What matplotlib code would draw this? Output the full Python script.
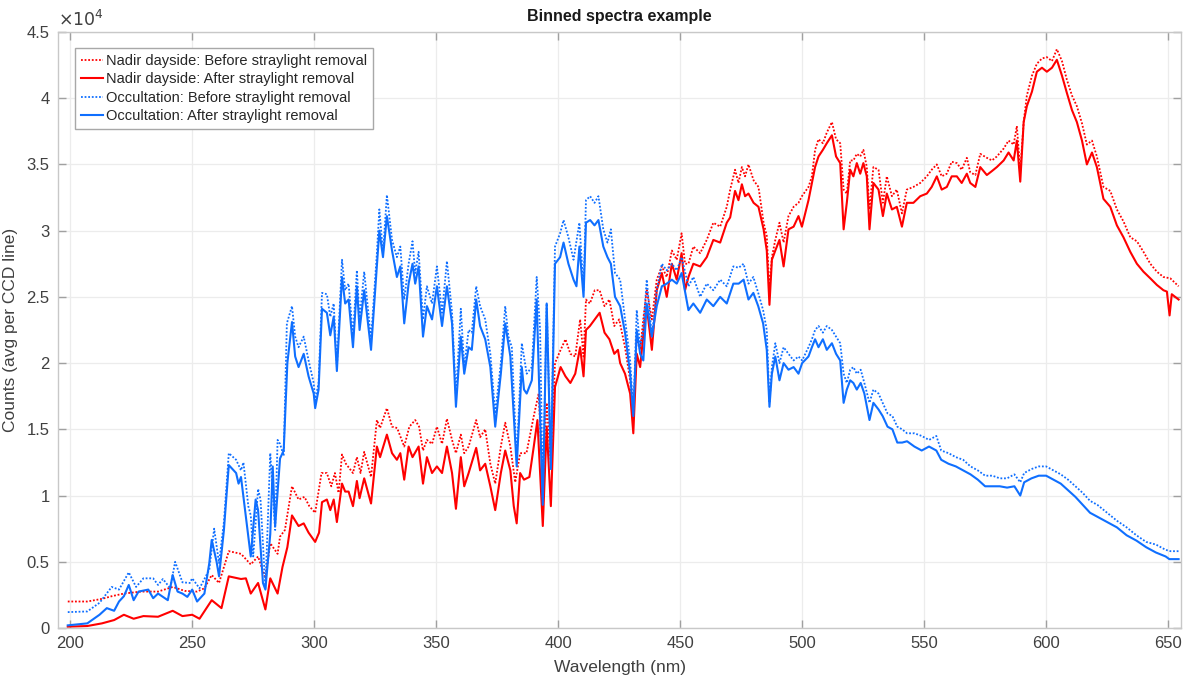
import numpy as np
import matplotlib
matplotlib.use("Agg")
import matplotlib.pyplot as plt
from matplotlib.ticker import FuncFormatter

# ---- data (counts in units of 1e4) ----
SCALE = 1e4

nadir_after_wl = [199, 207, 213, 218, 222, 226, 230, 236, 242, 246, 250, 253, 258, 262, 265, 270, 272, 274, 277, 280,
    282, 285, 287, 289, 290.9, 293.6, 295.7, 297.7, 300.4, 302, 303.2, 305.2, 306.6, 308, 309.3, 311.4, 312.7, 314.1,
    315.9, 317.5, 318.6, 320.5, 323.3, 325.7, 327, 329.8, 331.9, 333.9, 335.3, 336.9, 338.7, 340.3, 342.8, 344.6,
    346.2, 348.3, 350.3, 352.4, 354.4, 356.5, 358.1, 360.1, 361.5, 363.3, 366.4, 368, 370.1, 372.2, 374.2, 376.5,
    378.3, 380.4, 381.8, 383, 384.4, 386, 388.2, 390, 391.5, 393.7, 395.3, 397, 398.7, 401, 403, 405, 407, 409,
    410.4, 411.4, 413, 415, 417, 419, 421, 423, 424.5, 425.4, 427.4, 429.5, 430.8, 432.2, 433.6, 435, 436.3, 438.4,
    440.4, 442.5, 444.5, 446.6, 448.6, 450.6, 452, 453.4, 455.4, 458.2, 460.9, 463.6, 466.4, 469.1, 470.5, 472.5,
    473.9, 475.3, 476.6, 478, 480.1, 482.1, 484.2, 485.5, 486.6, 487.6, 489, 490.7, 492.4, 494.4, 496.5, 498.5,
    499.9, 502.6, 504, 505.3, 506.7, 508.5, 510.1, 512.2, 513.9, 515.6, 517, 518.3, 519.7, 521, 522.4, 523.8, 525.1,
    526.5, 527.6, 529.2, 531.3, 533.1, 534.7, 536.8, 538.8, 540.9, 542.9, 545.6, 548.4, 551.1, 553.1, 555.2, 557.2,
    559.3, 561.3, 563.4, 565.4, 567.5, 568.9, 571, 573, 575.7, 577.8, 579.8, 582.6, 584.6, 586.7, 588, 589.4, 590.8,
    592.1, 594.2, 596.2, 598.3, 600.3, 602.4, 604.4, 606.5, 608.5, 610.6, 612.6, 614.7, 616.7, 618.8, 620.8, 623.5,
    626.3, 629, 631.7, 634.5, 637.2, 639.9, 642.7, 645.4, 648.1, 649.5, 650.6, 651.5, 654.3]
nadir_after = [0.01, 0.015, 0.035, 0.06, 0.10, 0.07, 0.09, 0.085, 0.13, 0.09, 0.10, 0.07, 0.21, 0.15, 0.39, 0.37, 0.375,
    0.26, 0.34, 0.14, 0.375, 0.26, 0.46, 0.61, 0.85, 0.77, 0.79, 0.72, 0.65, 0.72, 0.95, 0.97, 0.89, 0.97, 0.80, 1.09,
    1.03, 1.03, 0.92, 1.11, 0.98, 1.13, 0.94, 1.37, 1.29, 1.46, 1.32, 1.27, 1.32, 1.12, 1.37, 1.29, 1.37, 1.09, 1.29,
    1.17, 1.22, 1.17, 1.37, 1.17, 0.90, 1.29, 1.07, 1.17, 1.36, 1.19, 1.24, 1.07, 0.89, 1.17, 1.34, 1.19, 0.92, 0.79,
    1.17, 1.12, 1.14, 1.37, 1.57, 0.77, 1.52, 0.92, 1.82, 1.97, 1.90, 1.85, 1.92, 2.12, 1.90, 2.25, 2.28, 2.33, 2.38,
    2.23, 2.18, 2.07, 2.10, 2.00, 1.92, 1.77, 1.47, 2.07, 1.97, 2.23, 2.43, 2.10, 2.55, 2.68, 2.50, 2.75, 2.63, 2.83,
    2.55, 2.65, 2.75, 2.73, 2.80, 2.93, 2.91, 3.06, 3.10, 3.30, 3.23, 3.35, 3.26, 3.28, 3.21, 3.18, 3.01, 2.85, 2.44,
    2.78, 2.85, 2.93, 2.73, 3.01, 3.03, 3.11, 3.03, 3.23, 3.36, 3.48, 3.56, 3.61, 3.66, 3.72, 3.56, 3.51, 3.01, 3.21,
    3.46, 3.41, 3.51, 3.43, 3.51, 3.41, 3.01, 3.36, 3.31, 3.11, 3.28, 3.16, 3.18, 3.03, 3.21, 3.21, 3.26, 3.28, 3.33,
    3.41, 3.31, 3.33, 3.41, 3.41, 3.36, 3.43, 3.36, 3.33, 3.48, 3.42, 3.45, 3.48, 3.53, 3.59, 3.53, 3.68, 3.37, 3.82,
    3.94, 4.05, 4.20, 4.23, 4.20, 4.23, 4.29, 4.17, 4.04, 3.91, 3.82, 3.68, 3.50, 3.59, 3.48, 3.24, 3.18, 3.04, 2.95,
    2.84, 2.75, 2.69, 2.64, 2.59, 2.55, 2.54, 2.36, 2.52, 2.48]

nadir_before_wl = [199, 207, 213, 217, 222, 229, 236, 242, 247, 252, 255, 258, 261, 265, 270, 274, 277, 280, 282, 285,
    286, 288, 290.9, 293.6, 296, 298, 300.4, 303, 305.2, 307, 308.5, 310, 311.4, 313, 315.9, 317.5, 319, 320.5, 323.3,
    325.7, 327, 329.8, 331.9, 334, 336.9, 339, 341.4, 343, 344.6, 346.2, 348.3, 350.3, 352.4, 354.4, 356.5, 358.1,
    360.1, 361.5, 363.3, 366.4, 368, 370.1, 372.2, 374.2, 376.5, 378.3, 380.4, 382.4, 384.4, 387, 390, 392, 393.7,
    395.3, 397, 398.7, 401, 403, 405, 407, 409, 410.4, 411.4, 413, 415, 417, 419, 421, 423, 425, 427.4, 429.5, 430.8,
    432.2, 433.6, 435, 436.3, 438.4, 440.4, 442.5, 444.5, 446.6, 448.6, 450.6, 452, 453.4, 455.4, 458.2, 460.9, 463.6,
    466.4, 469.1, 470.5, 472.5, 473.9, 475.3, 476.6, 478, 480.1, 482.1, 484.2, 485.5, 486.6, 487.6, 489, 490.7, 492.4,
    494.4, 496.5, 498.5, 499.9, 502.6, 504, 505.3, 506.7, 508.5, 510.1, 512.2, 513.9, 515.6, 517, 518.3, 519.7, 521,
    522.4, 523.8, 525.1, 526.5, 527.6, 529.2, 531.3, 533.1, 534.7, 536.8, 538.8, 540.9, 542.9, 545.6, 548.4, 551.1,
    553.1, 555.2, 557.2, 559.3, 561.3, 563.4, 565.4, 567.5, 568.9, 571, 573, 575.7, 577.8, 579.8, 582.6, 584.6, 586.7,
    588, 589.4, 590.8, 592.1, 594.2, 596.2, 598.3, 600.3, 602.4, 604.4, 606.5, 608.5, 610.6, 612.6, 614.7, 616.7,
    618.8, 620.8, 623.5, 626.3, 629, 631.7, 634.5, 637.2, 639.9, 642.7, 645.4, 648.1, 650.9, 654.3]
nadir_before = [0.20, 0.20, 0.22, 0.24, 0.26, 0.275, 0.275, 0.31, 0.28, 0.275, 0.30, 0.40, 0.34, 0.58, 0.56, 0.48, 0.54,
    0.375, 0.64, 0.56, 0.69, 0.74, 1.07, 0.97, 0.99, 0.92, 0.87, 1.17, 1.17, 1.07, 1.17, 1.02, 1.31, 1.24, 1.17, 1.29,
    1.17, 1.33, 1.14, 1.57, 1.51, 1.66, 1.52, 1.51, 1.37, 1.52, 1.57, 1.52, 1.34, 1.42, 1.39, 1.52, 1.39, 1.58, 1.42,
    1.32, 1.46, 1.32, 1.37, 1.57, 1.44, 1.50, 1.24, 1.09, 1.37, 1.55, 1.37, 1.10, 1.32, 1.32, 1.60, 1.77, 1.12, 1.70,
    1.24, 2.00, 2.10, 2.18, 2.07, 2.05, 2.33, 2.05, 2.48, 2.45, 2.55, 2.55, 2.43, 2.48, 2.28, 2.33, 2.12, 1.87, 1.57,
    2.20, 2.10, 2.35, 2.55, 2.33, 2.63, 2.73, 2.65, 2.85, 2.78, 2.98, 2.75, 2.75, 2.88, 2.83, 2.93, 3.06, 3.03, 3.18,
    3.31, 3.46, 3.36, 3.48, 3.41, 3.50, 3.38, 3.33, 3.06, 2.96, 2.55, 2.80, 2.93, 3.06, 2.91, 3.11, 3.18, 3.21, 3.26,
    3.33, 3.41, 3.61, 3.69, 3.66, 3.74, 3.82, 3.69, 3.66, 3.31, 3.28, 3.53, 3.53, 3.58, 3.56, 3.61, 3.48, 3.16, 3.48,
    3.46, 3.21, 3.41, 3.26, 3.31, 3.13, 3.31, 3.33, 3.36, 3.41, 3.46, 3.50, 3.41, 3.43, 3.52, 3.51, 3.46, 3.55, 3.44,
    3.42, 3.58, 3.55, 3.53, 3.56, 3.62, 3.68, 3.65, 3.79, 3.45, 3.82, 4.02, 4.17, 4.26, 4.30, 4.31, 4.28, 4.37, 4.28,
    4.14, 4.02, 3.94, 3.81, 3.65, 3.68, 3.56, 3.33, 3.30, 3.16, 3.07, 2.95, 2.92, 2.84, 2.75, 2.69, 2.65, 2.64, 2.58]

occ_after_wl = [199, 207, 212, 215, 218, 220, 222, 224, 226, 228, 232, 234, 236, 238, 240, 242, 244, 246, 248, 250, 252,
    255, 257, 258, 260, 261, 263, 265, 268, 269, 270, 272, 274, 276, 277, 279, 280, 282, 283, 284, 286, 287.5, 289,
    290.9, 292.2, 293.6, 295.7, 297.7, 299.8, 300.4, 301.8, 303.2, 305.2, 306.6, 308, 309.3, 311.4, 312.7, 314.1,
    315.9, 317.5, 318.6, 320.5, 323.3, 325.7, 326.7, 328.2, 329.8, 331.9, 333.9, 335.3, 336.9, 338.7, 340.3, 341.4,
    342.8, 344.6, 346.2, 348.3, 350.3, 352.4, 354.4, 356.5, 358.1, 360.1, 361.5, 363.3, 364.6, 366.4, 368, 370.1,
    372.2, 374.2, 376.5, 378.3, 380.4, 383, 385.1, 386, 387.1, 389.2, 391.2, 392.6, 393.7, 395.3, 397, 398.7, 400.8,
    402.2, 404.2, 406.3, 407.5, 408.7, 410.4, 411.4, 413.1, 414.9, 416.5, 418.5, 420.2, 421.6, 423.3, 425.4, 427.4,
    429.5, 430.8, 432.2, 433.6, 434.9, 436.3, 438.4, 440.4, 442.5, 444.5, 446.6, 448.6, 450.6, 453.4, 455.4, 458.2,
    460.9, 463.6, 466.4, 469.1, 471.8, 474, 476, 478, 480, 482, 484, 485.5, 486.6, 487.6, 489, 490.7, 492.4, 494.4,
    496.5, 498.5, 500, 502.6, 504, 505.3, 506.7, 508.5, 510.1, 512.2, 513.9, 515.6, 517, 518.3, 519.7, 521, 522.4,
    524, 525.5, 527.6, 529.2, 531.3, 533, 535, 537, 539, 541, 543, 546, 549, 552, 555, 557, 560, 563, 566, 569, 572,
    575, 578, 581, 584, 587, 589.4, 591, 594, 597, 600, 603, 606, 609, 612, 615, 618, 621, 625, 629, 633, 637, 641,
    645, 649, 650.5, 654.3]
occ_after = [0.02, 0.035, 0.10, 0.15, 0.13, 0.20, 0.24, 0.325, 0.21, 0.275, 0.29, 0.225, 0.26, 0.235, 0.21, 0.40, 0.275,
    0.26, 0.235, 0.29, 0.20, 0.26, 0.49, 0.665, 0.50, 0.39, 0.74, 1.23, 1.17, 1.09, 1.14, 0.84, 0.54, 0.97, 0.89, 0.34,
    0.29, 0.71, 1.22, 0.77, 1.28, 1.34, 2.00, 2.31, 2.05, 1.97, 2.07, 1.90, 1.77, 1.66, 1.80, 2.41, 2.38, 2.21, 2.35,
    1.94, 2.65, 2.45, 2.48, 2.12, 2.58, 2.25, 2.55, 2.10, 2.73, 3.00, 2.80, 3.11, 2.85, 2.65, 2.73, 2.30, 2.60, 2.75,
    2.60, 2.73, 2.20, 2.43, 2.33, 2.58, 2.28, 2.58, 2.30, 1.67, 2.20, 1.92, 2.12, 2.10, 2.48, 2.28, 2.18, 1.97, 1.52,
    1.92, 2.30, 2.05, 1.22, 1.97, 1.80, 1.77, 1.87, 2.48, 1.57, 0.93, 2.45, 1.20, 2.75, 2.80, 2.91, 2.75, 2.63, 2.58,
    2.88, 2.50, 3.06, 3.08, 3.04, 3.08, 2.88, 2.80, 2.75, 2.50, 2.43, 2.23, 1.92, 1.60, 2.25, 2.07, 2.02, 2.45, 2.20,
    2.43, 2.58, 2.60, 2.63, 2.60, 2.68, 2.40, 2.45, 2.38, 2.48, 2.43, 2.50, 2.45, 2.60, 2.60, 2.63, 2.48, 2.53, 2.43,
    2.30, 2.10, 1.67, 1.92, 2.05, 1.87, 2.00, 1.95, 1.97, 1.92, 2.00, 2.05, 2.12, 2.18, 2.12, 2.18, 2.10, 2.15, 2.07,
    2.02, 1.70, 1.80, 1.87, 1.85, 1.80, 1.85, 1.77, 1.57, 1.70, 1.65, 1.60, 1.52, 1.50, 1.40, 1.40, 1.41, 1.37, 1.34,
    1.37, 1.34, 1.27, 1.24, 1.22, 1.19, 1.16, 1.12, 1.07, 1.07, 1.07, 1.06, 1.07, 1.00, 1.10, 1.13, 1.15, 1.15, 1.12,
    1.09, 1.04, 0.99, 0.93, 0.87, 0.84, 0.80, 0.76, 0.70, 0.66, 0.61, 0.57, 0.54, 0.52, 0.52]

occ_before_wl = [199, 207, 212, 217, 220, 224, 227, 230, 234, 236, 238, 241, 243, 246, 249, 250, 253, 257, 259, 261,
    263, 265, 268, 270, 271, 273, 274, 275, 277, 278, 280, 282, 284, 285, 286, 287.5, 288.8, 290.9, 292.2, 293.6,
    295.7, 297.7, 299.8, 300.4, 301.8, 303.2, 305.2, 306.6, 308, 309.3, 311.4, 312.7, 314.1, 315.9, 317.5, 318.6,
    320.5, 323.3, 325.7, 326.7, 328.2, 329.8, 331.9, 333.9, 335.3, 336.9, 338.7, 340.3, 341.4, 342.8, 344.6, 346.2,
    348.3, 350.3, 352.4, 354.4, 356.5, 358.1, 360.1, 361.5, 363.3, 364.6, 366.4, 368, 370.1, 372.2, 374.2, 376.5,
    378.3, 379.6, 381, 383, 385.1, 387.1, 389.2, 391.2, 392.6, 393.7, 395.3, 397, 398.7, 400.8, 402.2, 404.2, 406.3,
    408.7, 410.4, 411.4, 413.1, 414.9, 416.5, 418.5, 420.2, 421.6, 423.3, 425.4, 427.4, 429.5, 430.8, 432.2, 433.6,
    434.9, 436.3, 438.4, 440.4, 442.5, 444.5, 446.6, 448.6, 450.6, 453.4, 455.4, 458.2, 460.9, 463.6, 466.4, 469.1,
    471.8, 474, 476, 478, 480, 482, 484, 485.5, 486.6, 487.6, 489, 490.7, 492.4, 494.4, 496.5, 498.5, 500, 502.6, 504,
    505.3, 506.7, 508.5, 510.1, 512.2, 513.9, 515.6, 517, 518.3, 519.7, 521, 522.4, 524, 525.5, 527.6, 529.2, 531.3,
    533, 535, 537, 539, 541, 543, 546, 549, 552, 555, 557, 560, 563, 566, 569, 572, 575, 578, 581, 584, 587, 589.4,
    591, 594, 597, 600, 603, 606, 609, 612, 615, 618, 621, 625, 629, 633, 637, 641, 645, 649, 651, 654.3]
occ_before = [0.12, 0.125, 0.19, 0.31, 0.29, 0.42, 0.31, 0.375, 0.375, 0.325, 0.37, 0.30, 0.50, 0.345, 0.34, 0.375,
    0.30, 0.44, 0.75, 0.49, 0.80, 1.32, 1.27, 1.19, 1.25, 0.92, 0.85, 0.54, 1.05, 0.97, 0.30, 1.32, 0.74, 1.42, 1.39,
    1.30, 2.30, 2.43, 2.20, 2.12, 2.20, 2.02, 1.85, 1.72, 1.85, 2.53, 2.52, 2.35, 2.45, 1.97, 2.78, 2.55, 2.60, 2.20,
    2.70, 2.33, 2.69, 2.18, 2.83, 3.16, 2.83, 3.27, 2.93, 2.80, 2.88, 2.48, 2.75, 2.92, 2.68, 2.84, 2.33, 2.58, 2.45,
    2.73, 2.38, 2.77, 2.38, 1.75, 2.41, 1.97, 2.25, 2.23, 2.58, 2.43, 2.33, 2.07, 1.62, 2.00, 2.43, 2.20, 2.12, 1.27,
    2.15, 1.92, 1.97, 2.65, 2.25, 0.98, 2.45, 1.24, 2.88, 2.98, 3.08, 2.95, 2.78, 3.06, 2.55, 3.23, 3.26, 3.21, 3.26,
    3.01, 2.91, 3.01, 2.68, 2.63, 2.33, 2.02, 1.62, 2.40, 2.12, 2.25, 2.63, 2.20, 2.55, 2.75, 2.70, 2.75, 2.70, 2.80,
    2.58, 2.65, 2.50, 2.60, 2.55, 2.63, 2.58, 2.73, 2.72, 2.75, 2.60, 2.65, 2.53, 2.40, 2.25, 1.70, 1.97, 2.15, 2.00,
    2.12, 2.07, 2.02, 2.05, 2.02, 2.12, 2.18, 2.25, 2.28, 2.23, 2.28, 2.25, 2.20, 2.15, 1.92, 1.85, 1.95, 1.97, 1.92,
    1.95, 1.85, 1.70, 1.80, 1.77, 1.70, 1.62, 1.60, 1.52, 1.50, 1.47, 1.47, 1.45, 1.42, 1.45, 1.34, 1.32, 1.29, 1.27,
    1.22, 1.19, 1.15, 1.15, 1.13, 1.13, 1.16, 1.10, 1.17, 1.20, 1.22, 1.22, 1.19, 1.16, 1.12, 1.07, 1.02, 0.96, 0.93,
    0.87, 0.81, 0.76, 0.70, 0.65, 0.63, 0.59, 0.58, 0.58]

labels = ["Nadir dayside: Before straylight removal",
          "Nadir dayside: After straylight removal",
          "Occultation: Before straylight removal",
          "Occultation: After straylight removal"]
x_ticks = [200, 250, 300, 350, 400, 450, 500, 550, 600, 650]
y_ticks = [0, 0.5, 1, 1.5, 2, 2.5, 3, 3.5, 4, 4.5]

# ---- styling ----
plt.rcParams['font.family'] = ['Liberation Sans', 'DejaVu Sans']
RED = '#ff0000'
BLUE = '#0f6fff'
AX_GRAY = '#c8c8c8'
TXT_GRAY = '#404040'

fig = plt.figure(figsize=(11.84, 6.76), dpi=100)
ax = fig.add_axes([0.049, 0.071, 0.9485, 0.8817])

lw = 1.5
ax.plot(nadir_before_wl, np.array(nadir_before) * SCALE, color=RED, ls=(0, (1, 1)), lw=1.3, label=labels[0])
ax.plot(nadir_after_wl, np.array(nadir_after) * SCALE, color=RED, ls='-', lw=lw, label=labels[1])
ax.plot(occ_before_wl, np.array(occ_before) * SCALE, color=BLUE, ls=(0, (1, 1)), lw=1.3, label=labels[2])
ax.plot(occ_after_wl, np.array(occ_after) * SCALE, color=BLUE, ls='-', lw=lw, label=labels[3])

ax.set_xlim(195, 655.3)
ax.set_ylim(0, 4.5 * SCALE)
ax.set_xticks(x_ticks)
ax.set_yticks([v * SCALE for v in y_ticks])
ax.yaxis.set_major_formatter(FuncFormatter(lambda v, p: f"{v / SCALE:g}"))

ax.grid(True, color='#ececec', lw=0.9)
ax.set_axisbelow(True)
for s in ax.spines.values():
    s.set_color(AX_GRAY)
    s.set_linewidth(1.0)
ax.tick_params(direction='in', length=6, width=1.0, color='#a0a0a0', labelcolor=TXT_GRAY,
               labelsize=12, top=True, right=True, pad=6)

ax.set_xlabel("Wavelength (nm)", fontsize=12.5, color=TXT_GRAY, labelpad=6)
ax.set_ylabel("Counts (avg per CCD line)", fontsize=12.5, color=TXT_GRAY)
ax.yaxis.set_label_coords(-0.0356, 0.5)
ax.set_title("Binned spectra example", fontsize=11.5, fontweight='bold', color='#1a1a1a', pad=8)
ax.text(0.0, 1.005, r"$\times10^{4}$", transform=ax.transAxes, fontsize=12.5, color=TXT_GRAY,
        ha='left', va='bottom')

leg = ax.legend(loc='upper left', bbox_to_anchor=(0.0152, 0.973), borderaxespad=0, fontsize=10.5,
                frameon=True, fancybox=False, edgecolor='#a8a8a8', handlelength=1.5, handletextpad=0.25,
                labelspacing=0.3, borderpad=0.4, framealpha=1)
leg.get_frame().set_linewidth(1.0)
for t in leg.get_texts():
    t.set_color('#262626')

fig.savefig("out.png", dpi=100)
